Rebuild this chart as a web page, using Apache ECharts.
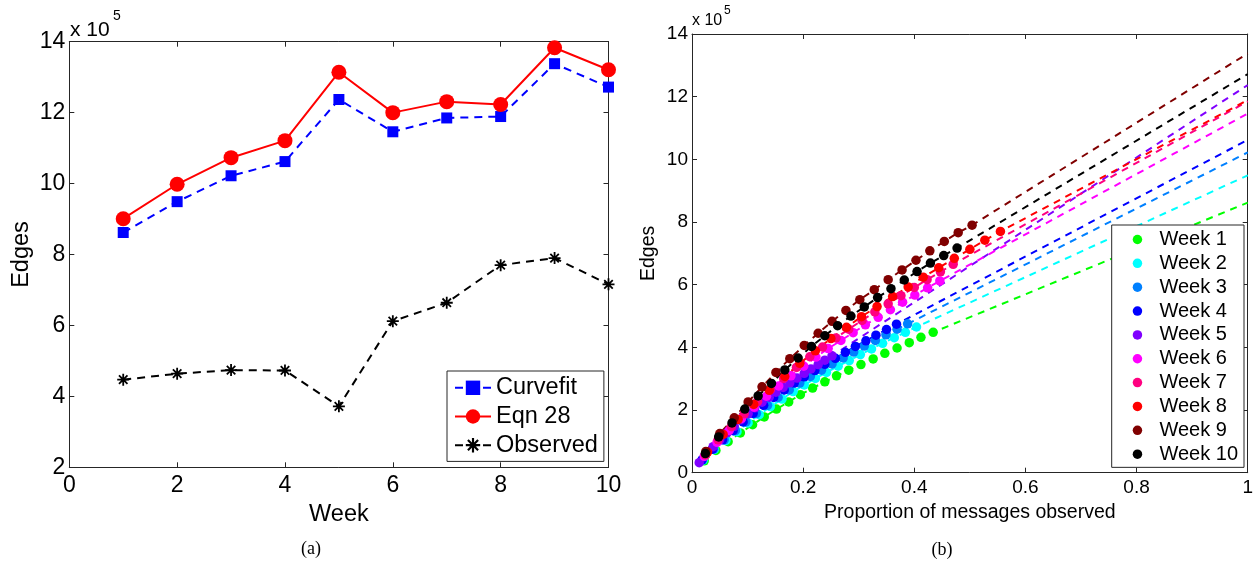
<!DOCTYPE html>
<html>
<head>
<meta charset="utf-8">
<script src="https://cdn.jsdelivr.net/npm/echarts@6/dist/echarts.min.js"></script>
<style>html,body{margin:0;padding:0;background:#fff}#c{width:1256px;height:563px}</style>
</head>
<body>
<div id="c"></div>
<script>
// ---------- Panel (a) data (values in units of 10^5 edges) ----------
const weeks = [1, 2, 3, 4, 5, 6, 7, 8, 9, 10];
const curvefit = [8.62, 9.49, 10.22, 10.62, 12.37, 11.46, 11.85, 11.89, 13.38, 12.72];
const eqn28 = [9.01, 9.98, 10.73, 11.21, 13.14, 12.00, 12.31, 12.23, 13.83, 13.21];
const observed = [4.47, 4.64, 4.74, 4.73, 3.72, 6.12, 6.64, 7.70, 7.90, 7.16];

// ---------- Panel (b) data: proportion of messages observed vs edges ----------
const weekNames = ['Week 1','Week 2','Week 3','Week 4','Week 5','Week 6','Week 7','Week 8','Week 9','Week 10'];
const w1x = [0.022,0.043,0.065,0.087,0.109,0.130,0.152,0.174,0.195,0.217,0.239,0.260,0.282,0.304,0.326,0.347,0.369,0.391,0.412,0.434];
const w1y = [0.38,0.71,0.99,1.27,1.53,1.78,2.03,2.26,2.49,2.70,2.90,3.09,3.27,3.45,3.63,3.81,3.98,4.15,4.32,4.48];
const w2x = [0.020,0.040,0.061,0.081,0.101,0.121,0.141,0.162,0.182,0.202,0.222,0.242,0.263,0.283,0.303,0.323,0.343,0.364,0.384,0.404];
const w2y = [0.40,0.74,1.03,1.31,1.59,1.85,2.11,2.35,2.59,2.80,3.01,3.20,3.40,3.58,3.77,3.95,4.13,4.31,4.48,4.65];
const w3x = [0.019,0.039,0.058,0.078,0.097,0.116,0.136,0.155,0.175,0.194,0.213,0.233,0.252,0.272,0.291,0.310,0.330,0.349,0.369,0.388];
const w3y = [0.41,0.75,1.05,1.34,1.62,1.89,2.15,2.40,2.64,2.86,3.07,3.27,3.47,3.66,3.85,4.04,4.22,4.40,4.58,4.75];
const w4x = [0.018,0.037,0.055,0.074,0.092,0.110,0.129,0.147,0.166,0.184,0.202,0.221,0.239,0.258,0.276,0.294,0.313,0.331,0.350,0.368];
const w4y = [0.41,0.75,1.05,1.34,1.62,1.89,2.15,2.40,2.64,2.86,3.06,3.26,3.46,3.65,3.84,4.03,4.21,4.39,4.57,4.74];
const w5x = [0.013,0.025,0.038,0.050,0.063,0.076,0.088,0.101,0.113,0.126,0.139,0.151,0.164,0.176,0.189,0.202,0.214,0.227,0.239,0.252];
const w5y = [0.32,0.59,0.83,1.05,1.27,1.48,1.69,1.88,2.07,2.25,2.41,2.57,2.72,2.87,3.02,3.17,3.31,3.45,3.59,3.73];
const w6x = [0.022,0.045,0.067,0.089,0.112,0.134,0.156,0.178,0.201,0.223,0.245,0.268,0.290,0.312,0.335,0.357,0.379,0.401,0.424,0.446];
const w6y = [0.52,0.97,1.35,1.73,2.09,2.44,2.77,3.09,3.40,3.69,3.96,4.22,4.47,4.72,4.96,5.20,5.44,5.67,5.90,6.12];
const w7x = [0.024,0.047,0.071,0.094,0.118,0.141,0.165,0.188,0.212,0.235,0.259,0.282,0.306,0.329,0.353,0.376,0.400,0.423,0.447,0.470];
const w7y = [0.57,1.05,1.47,1.88,2.27,2.65,3.01,3.36,3.70,4.01,4.30,4.58,4.86,5.13,5.39,5.65,5.91,6.16,6.41,6.65];
const w8x = [0.028,0.056,0.083,0.111,0.139,0.167,0.194,0.222,0.250,0.278,0.305,0.333,0.361,0.389,0.416,0.444,0.472,0.500,0.527,0.555];
const w8y = [0.66,1.22,1.70,2.18,2.63,3.07,3.49,3.89,4.28,4.64,4.98,5.30,5.62,5.93,6.24,6.54,6.84,7.13,7.42,7.70];
const w9x = [0.025,0.050,0.076,0.101,0.126,0.151,0.176,0.202,0.227,0.252,0.277,0.302,0.328,0.353,0.378,0.403,0.428,0.454,0.479,0.504];
const w9y = [0.68,1.25,1.75,2.26,2.74,3.20,3.64,4.06,4.45,4.83,5.18,5.52,5.84,6.16,6.47,6.78,7.08,7.38,7.66,7.90];
const w10x = [0.024,0.048,0.072,0.095,0.119,0.143,0.167,0.191,0.215,0.239,0.262,0.286,0.310,0.334,0.358,0.382,0.405,0.429,0.453,0.477];
const w10y = [0.61,1.14,1.59,2.03,2.45,2.85,3.28,3.66,4.03,4.37,4.69,5.00,5.29,5.59,5.87,6.15,6.42,6.69,6.93,7.17];

const weekX = [w1x, w2x, w3x, w4x, w5x, w6x, w7x, w8x, w9x, w10x];
const weekY = [w1y, w2y, w3y, w4y, w5y, w6y, w7y, w8y, w9y, w10y];
const weekColors = ['#00ff00','#00ffff','#0080ff','#0000ff','#8000ff','#ff00ff','#ff0080','#ff0000','#800000','#000000'];

// ---------- styling ----------
const FONT = 'Liberation Sans, Arial, Helvetica, sans-serif';
const SERIF = 'Liberation Serif, Times New Roman, serif';
const AX = '#262626';
const asterisk = 'path://M8.5,0h3v20h-3z M0,8.5h20v3h-20z M3.99,1.87L18.13,16.01L16.01,18.13L1.87,3.99z M16.01,1.87L18.13,3.99L3.99,18.13L1.87,16.01z';

function pairs(xs, ys) { return xs.map((x, i) => [x, ys[i]]); }

function axisBase(extra) {
  return Object.assign({
    type: 'value',
    axisLine: { show: true, onZero: false, lineStyle: { color: AX, width: 1 } },
    axisTick: { show: true, inside: true, length: 5, lineStyle: { color: AX, width: 1 } },
    splitLine: { show: false }
  }, extra);
}

const series = [];
// panel (a)
series.push({
  name: 'Curvefit', type: 'line', xAxisIndex: 0, yAxisIndex: 0,
  data: pairs(weeks, curvefit),
  symbol: 'rect', symbolSize: 11,
  itemStyle: { color: '#0000ff' },
  lineStyle: { color: '#0000ff', width: 2, type: [8, 6] },
  z: 3
});
series.push({
  name: 'Eqn 28', type: 'line', xAxisIndex: 0, yAxisIndex: 0,
  data: pairs(weeks, eqn28),
  symbol: 'circle', symbolSize: 15,
  itemStyle: { color: '#ff0000' },
  lineStyle: { color: '#ff0000', width: 2, type: 'solid' },
  z: 4
});
series.push({
  name: 'Observed', type: 'line', xAxisIndex: 0, yAxisIndex: 0,
  data: pairs(weeks, observed),
  symbol: asterisk, symbolSize: 12, symbolKeepAspect: true,
  itemStyle: { color: '#000000' },
  lineStyle: { color: '#000000', width: 2, type: [8, 6] },
  z: 3
});
// panel (b)
for (let i = 0; i < 10; i++) {
  const pts = pairs(weekX[i], weekY[i]);
  series.push({
    name: weekNames[i], type: 'scatter', xAxisIndex: 2, yAxisIndex: 2,
    data: pts, symbol: 'circle', symbolSize: 9.5,
    itemStyle: { color: weekColors[i], opacity: 1 },
    z: 2
  });
  series.push({
    name: weekNames[i] + ' fit', type: 'line', xAxisIndex: 2, yAxisIndex: 2,
    data: pts.concat([[1, curvefit[i]]]),
    showSymbol: false, symbol: 'none', silent: true,
    lineStyle: { color: weekColors[i], width: 2, type: [7, 6] },
    z: 2
  });
}

const option = {
  animation: false,
  backgroundColor: '#ffffff',
  grid: [
    { left: 69.3, top: 41.7, width: 539.2, height: 425.6 },
    { left: 692, top: 34, width: 557, height: 438.7 }
  ],
  xAxis: [
    axisBase({ gridIndex: 0, position: 'bottom', min: 0, max: 10, interval: 2,
      axisLabel: { margin: 7, color: '#000', fontSize: 23, fontFamily: FONT },
      name: 'Week', nameLocation: 'middle', nameGap: 27,
      nameTextStyle: { color: '#000', fontSize: 23.5, fontFamily: FONT } }),
    axisBase({ gridIndex: 0, position: 'top', min: 0, max: 10, interval: 2, axisLabel: { show: false } }),
    axisBase({ gridIndex: 1, position: 'bottom', min: 0, max: 1, interval: 0.2,
      axisLabel: { margin: 6, color: '#000', fontSize: 19, fontFamily: FONT },
      name: 'Proportion of messages observed', nameLocation: 'middle', nameGap: 20,
      nameTextStyle: { color: '#000', fontSize: 19.5, fontFamily: FONT } }),
    axisBase({ gridIndex: 1, position: 'top', min: 0, max: 1, interval: 0.2, axisLabel: { show: false } })
  ],
  yAxis: [
    axisBase({ gridIndex: 0, position: 'left', min: 2, max: 14, interval: 2,
      axisLabel: { margin: 4, color: '#000', fontSize: 23, fontFamily: FONT },
      name: 'Edges', nameLocation: 'middle', nameGap: 36,
      nameTextStyle: { color: '#000', fontSize: 23.5, fontFamily: FONT } }),
    axisBase({ gridIndex: 0, position: 'right', min: 2, max: 14, interval: 2, axisLabel: { show: false } }),
    axisBase({ gridIndex: 1, position: 'left', min: 0, max: 14, interval: 2,
      axisLabel: { margin: 4, color: '#000', fontSize: 19, fontFamily: FONT },
      name: 'Edges', nameLocation: 'middle', nameGap: 33,
      nameTextStyle: { color: '#000', fontSize: 19.5, fontFamily: FONT } }),
    axisBase({ gridIndex: 1, position: 'right', min: 0, max: 14, interval: 2, axisLabel: { show: false } })
  ],
  legend: [
    {
      data: ['Curvefit', 'Eqn 28', 'Observed'],
      orient: 'vertical', left: 447, top: 371,
      itemWidth: 36, itemHeight: 18, itemGap: 4.7,
      padding: [4.8, 6, 4.2, 7],
      borderColor: AX, borderWidth: 1, borderRadius: 0, backgroundColor: '#ffffff',
      selectedMode: false,
      textStyle: { color: '#000', fontSize: 23.5, lineHeight: 24, fontFamily: FONT }
    },
    {
      data: weekNames,
      orient: 'vertical', left: 1111.7, top: 225,
      icon: 'circle',
      itemWidth: 34, itemHeight: 9.5, itemGap: 3.85,
      padding: [4.5, 6, 3.2, 21],
      borderColor: AX, borderWidth: 1, borderRadius: 0, backgroundColor: '#ffffff',
      selectedMode: false,
      textStyle: { color: '#000', fontSize: 20, lineHeight: 19, fontFamily: FONT }
    }
  ],
  graphic: [
    { type: 'text', style: { x: 70, y: 30, text: 'x 10', fontSize: 21, fontFamily: FONT, fill: '#000', textAlign: 'left', textVerticalAlign: 'middle' } },
    { type: 'text', style: { x: 113, y: 16, text: '5', fontSize: 14, fontFamily: FONT, fill: '#000', textAlign: 'left', textVerticalAlign: 'middle' } },
    { type: 'text', style: { x: 692, y: 21, text: 'x 10', fontSize: 16, fontFamily: FONT, fill: '#000', textAlign: 'left', textVerticalAlign: 'middle' } },
    { type: 'text', style: { x: 724, y: 11, text: '5', fontSize: 12, fontFamily: FONT, fill: '#000', textAlign: 'left', textVerticalAlign: 'middle' } },
    { type: 'text', style: { x: 311, y: 549, text: '(a)', fontSize: 18, fontFamily: SERIF, fill: '#000', textAlign: 'center', textVerticalAlign: 'middle' } },
    { type: 'text', style: { x: 942, y: 550, text: '(b)', fontSize: 18, fontFamily: SERIF, fill: '#000', textAlign: 'center', textVerticalAlign: 'middle' } }
  ],
  series: series
};

const chart = echarts.init(document.getElementById('c'), null, { renderer: 'canvas' });
chart.setOption(option);
</script>
</body>
</html>
